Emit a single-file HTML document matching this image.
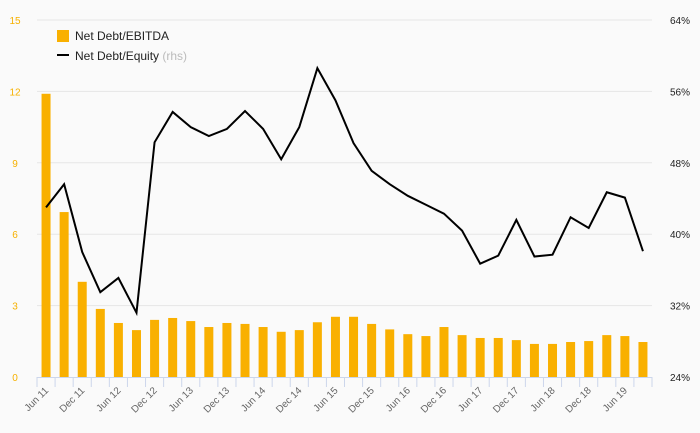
<!DOCTYPE html>
<html><head><meta charset="utf-8"><style>
body{margin:0;background:#fafafa;}
svg{display:block;font-family:"Liberation Sans",sans-serif;}
</style></head><body>
<svg id="c" width="700" height="433"></svg>
<script>
const categories=["Jun 11","Sep 11","Dec 11","Mar 12","Jun 12","Sep 12","Dec 12","Mar 13","Jun 13","Sep 13","Dec 13","Mar 14","Jun 14","Sep 14","Dec 14","Mar 15","Jun 15","Sep 15","Dec 15","Mar 16","Jun 16","Sep 16","Dec 16","Mar 17","Jun 17","Sep 17","Dec 17","Mar 18","Jun 18","Sep 18","Dec 18","Mar 19","Jun 19","Sep 19"];
const debtEbitda=[11.9,6.93,4.0,2.86,2.27,1.97,2.4,2.48,2.35,2.1,2.27,2.23,2.1,1.9,1.97,2.3,2.53,2.53,2.23,2.0,1.8,1.72,2.1,1.76,1.64,1.64,1.55,1.39,1.39,1.47,1.51,1.76,1.72,1.47];
const debtEquity=[43.0,45.6,38.0,33.5,35.1,31.2,50.3,53.7,52.0,51.0,51.8,53.8,51.8,48.4,52.0,58.6,55.0,50.2,47.1,45.6,44.3,43.3,42.3,40.4,36.7,37.6,41.6,37.5,37.7,41.9,40.7,44.7,44.1,38.1];
const leftTicks=[0,3,6,9,12,15];
const rightTicks=[24,32,40,48,56,64];
const NS="http://www.w3.org/2000/svg",svg=document.getElementById('c');
const X0=37,X1=652,Y0=377,Y1=20;
const bw=(X1-X0)/categories.length;
const xC=i=>X0+bw*(i+0.5);
const yL=v=>Y0-(v-0)/15*(Y0-Y1);
const yR=v=>Y0-(v-24)/40*(Y0-Y1);
function mk(t,a,p){const e=document.createElementNS(NS,t);for(const k in a)e.setAttribute(k,a[k]);(p||svg).appendChild(e);return e;}
leftTicks.forEach((t,i)=>{
 if(t>0){const g=mk('line',{x1:X0,x2:X1,y1:yL(t),y2:yL(t),stroke:'#e6e6e6','stroke-width':1});
 
 }
 const l=mk('text',{x:15,y:yL(t)+4,'font-size':10,fill:'#f6b100','text-anchor':'middle'});l.textContent=t;
 
 
});
rightTicks.forEach(t=>{
 const l=mk('text',{x:690,y:yR(t)+4,'font-size':10,fill:'#222','text-anchor':'end'});l.textContent=t+'%';
 
 
});
const ax=mk('line',{x1:X0,x2:X1,y1:Y0+0.5,y2:Y0+0.5,stroke:'#ccd6eb'});


for(let i=0;i<=categories.length;i++){const tk=mk('line',{x1:X0+bw*i,x2:X0+bw*i,y1:Y0,y2:Y0+10,stroke:'#ccd6eb'});
 
 }
debtEbitda.forEach((v,i)=>{
 const r=mk('rect',{x:xC(i)-4.5,y:yL(v),width:9,height:Y0-yL(v),fill:'#f9b000'});
 
 
});
categories.forEach((c,i)=>{if(i%2)return;
 const x=xC(i)+3,y=Y0+14;
 const l=mk('text',{x:x,y:y,'font-size':10,fill:'#666','text-anchor':'end',transform:`rotate(-45 ${x} ${y})`});l.textContent=c;
 
 
});
const p=mk('polyline',{points:debtEquity.map((v,i)=>xC(i)+','+yR(v)).join(' '),fill:'none',stroke:'#000','stroke-width':2,'stroke-linejoin':'miter'});


const lg=mk('g',{});


const s1=mk('rect',{x:57,y:30,width:12,height:12,fill:'#f9b000'},lg);


const t1=mk('text',{x:75,y:40,'font-size':12,fill:'#222'},lg);t1.textContent='Net Debt/EBITDA';


const s2=mk('line',{x1:57,x2:69,y1:55,y2:55,stroke:'#000','stroke-width':2},lg);


const t2=mk('text',{x:75,y:60,'font-size':12,fill:'#222'},lg);t2.innerHTML='Net Debt/Equity <tspan fill="#bbb">(rhs)</tspan>';


</script>
</body></html>
